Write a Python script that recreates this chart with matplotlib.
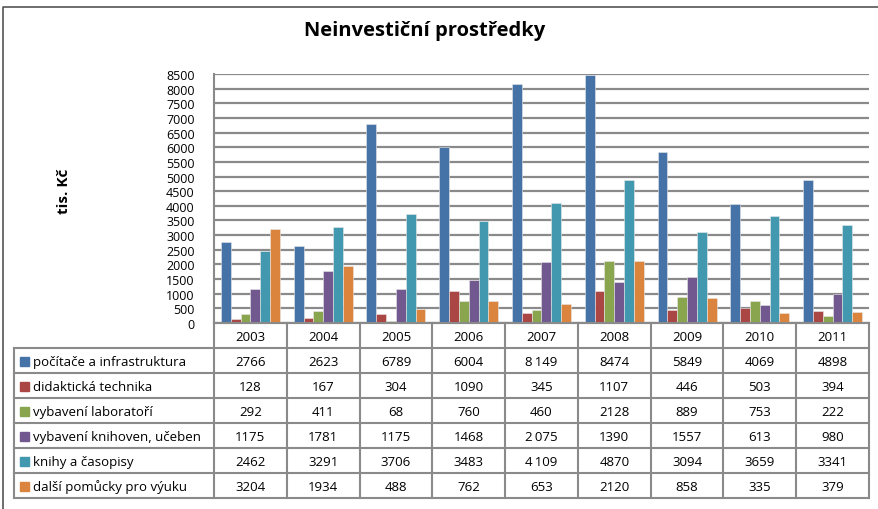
import matplotlib.pyplot as plt
import numpy as np

plt.rcParams['font.family'] = ['Open Sans', 'DejaVu Sans']

W, H = 879, 510

years = ['2003', '2004', '2005', '2006', '2007', '2008', '2009', '2010', '2011']
series = ['počítače a infrastruktura', 'didaktická technika', 'vybavení laboratoří',
          'vybavení knihoven, učeben', 'knihy a časopisy', 'další pomůcky pro výuku']
pocitace = [2766, 2623, 6789, 6004, 8149, 8474, 5849, 4069, 4898]
didakticka = [128, 167, 304, 1090, 345, 1107, 446, 503, 394]
laboratore = [292, 411, 68, 760, 460, 2128, 889, 753, 222]
knihovny = [1175, 1781, 1175, 1468, 2075, 1390, 1557, 613, 980]
knihy = [2462, 3291, 3706, 3483, 4109, 4870, 3094, 3659, 3341]
pomucky = [3204, 1934, 488, 762, 653, 2120, 858, 335, 379]
labels = [['2766', '2623', '6789', '6004', '8\u2009149', '8474', '5849', '4069', '4898'],
          ['128', '167', '304', '1090', '345', '1107', '446', '503', '394'],
          ['292', '411', '68', '760', '460', '2128', '889', '753', '222'],
          ['1175', '1781', '1175', '1468', '2\u2009075', '1390', '1557', '613', '980'],
          ['2462', '3291', '3706', '3483', '4\u2009109', '4870', '3094', '3659', '3341'],
          ['3204', '1934', '488', '762', '653', '2120', '858', '335', '379']]
colors = ['#4572A7', '#AA4643', '#89A54E', '#71588F', '#4198AF', '#DB843D']

data = [pocitace, didakticka, laboratore, knihovny, knihy, pomucky]

fig = plt.figure(figsize=(W / 100, H / 100), dpi=100)

# plot area in pixels
px_l, px_r, px_t, px_b = 214, 869, 75, 324
ax = fig.add_axes([px_l / W, 1 - px_b / H, (px_r - px_l) / W, (px_b - px_t) / H])

n = len(years)
x = np.arange(n)
bw = 0.135
for i, (vals, c) in enumerate(zip(data, colors)):
    ax.bar(x + (i - 2.5) * bw, vals, bw, color=c, edgecolor='#e8e8e8', linewidth=0.4, zorder=3)

ax.set_xlim(-0.5, n - 0.5)
ax.set_ylim(0, 8500)
ax.set_yticks(np.arange(0, 8501, 500))
ax.tick_params(axis='y', length=0, labelsize=9, pad=14)
ax.set_xticks([])
ax.yaxis.grid(True, color='#8a8a8a', linewidth=1.6, zorder=0)
for s in ['top', 'right']:
    ax.spines[s].set_visible(False)
ax.spines['left'].set_color('#8a8a8a')
ax.spines['left'].set_linewidth(1.5)
ax.spines['bottom'].set_color('#8a8a8a')
ax.spines['bottom'].set_linewidth(1.5)

# overlay for table and frame
ov = fig.add_axes([0, 0, 1, 1], zorder=5)
ov.set_xlim(0, W)
ov.set_ylim(H, 0)
ov.axis('off')
ov.patch.set_alpha(0)

# outer frame (left and top visible)
ov.plot([3, 3, W + 5], [H + 5, 8, 8], color='#555555', lw=1.2)

ov.text(425, 31, 'Neinvestiční prostředky', ha='center', va='center',
        fontsize=14.5, fontweight='bold')
ov.text(64, 191, 'tis. Kč', ha='center', va='center', rotation=90,
        fontsize=11, fontweight='bold')

grid_c = '#8a8a8a'
tab_l = 14
col_w = (px_r - px_l) / n
row_h = 25
head_b = px_b + row_h
tab_b = head_b + 6 * row_h

# vertical lines through header and body
for j in range(n + 1):
    xx = px_l + j * col_w
    ov.plot([xx, xx], [px_b, tab_b], color=grid_c, lw=1.5)
ov.plot([tab_l, tab_l], [head_b, tab_b], color=grid_c, lw=1.5)
# horizontal lines
ov.plot([px_l, px_r], [px_b, px_b], color=grid_c, lw=1.5)
for k in range(7):
    yy = head_b + k * row_h
    ov.plot([tab_l, px_r], [yy, yy], color=grid_c, lw=1.5)

for j, yr in enumerate(years):
    ov.text(px_l + (j + 0.5) * col_w, px_b + row_h / 2 + 1, yr, ha='center', va='center',
            fontsize=9.5)

for r in range(6):
    cy = head_b + (r + 0.5) * row_h + 1
    ov.add_patch(plt.Rectangle((20, cy - 5), 9, 9, color=colors[r]))
    ov.text(33, cy, series[r], ha='left', va='center', fontsize=9.5)
    for j in range(n):
        ov.text(px_l + (j + 0.5) * col_w, cy, labels[r][j], ha='center', va='center',
                fontsize=9.5)

fig.savefig('out.png', dpi=100)
